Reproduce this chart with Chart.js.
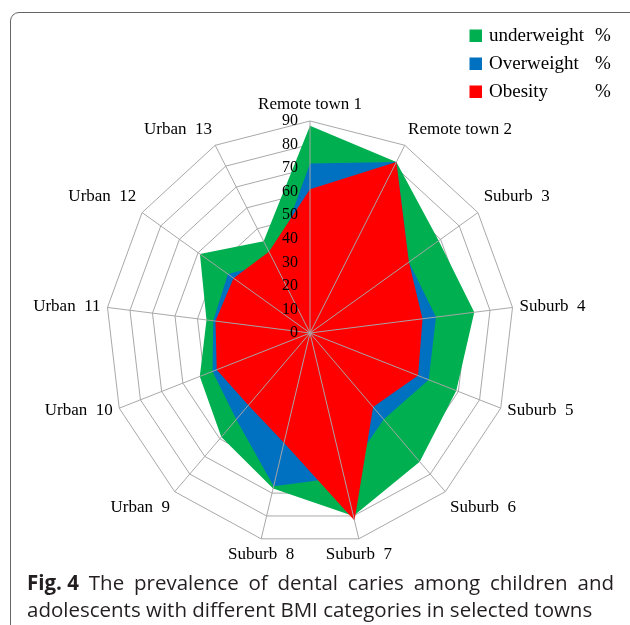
<!DOCTYPE html>
<html>
<head>
<meta charset="utf-8">
<script src="https://cdn.jsdelivr.net/npm/chart.js@4.4.0/dist/chart.umd.min.js"></script>
<style>
  html, body { margin: 0; padding: 0; background: #fff; }
  #wrap { position: relative; width: 630px; height: 625px; overflow: hidden; background: #fff; }
  #frame { position: absolute; left: 10px; top: 12px; width: 700px; height: 700px; border: 1.5px solid #666; border-radius: 9px; box-sizing: border-box; }
  #c { position: absolute; left: 0; top: 0; }
  .cap { position: absolute; left: 27px; font-family: "Open Sans", sans-serif; font-size: 20.5px; line-height: 27px; color: #231f20; white-space: nowrap; }
  #cap1 { top: 569px; width: 587px; text-align: justify; text-align-last: justify; white-space: normal; }
  #cap1 b { display: inline-block; }
  #cap2 { top: 596px; }
</style>
</head>
<body>
<div id="wrap">
  <div id="frame"></div>
  <canvas id="c" width="630" height="625"></canvas>
  <div id="cap1" class="cap"><b>Fig. 4</b> The prevalence of dental caries among children and</div>
  <div id="cap2" class="cap">adolescents with different BMI categories in selected towns</div>
</div>
<script>
const categories = ['Remote town 1', 'Remote town 2', 'Suburb  3', 'Suburb  4', 'Suburb  5', 'Suburb  6', 'Suburb  7', 'Suburb  8', 'Urban  9', 'Urban  10', 'Urban  11', 'Urban  12', 'Urban  13'];
const seriesNames = ['underweight', 'Overweight', 'Obesity'];
const underweight = [88, 82, 69, 73, 69, 73, 80, 68, 59, 52, 46, 59, 44];
const overweight  = [72, 82, 53, 56, 56, 49, 63, 67, 49, 46, 43, 44, 34];
const obesity     = [61, 82, 53, 50, 51, 42, 82, 48, 41, 44, 42, 41, 39];
const tickValues  = [0, 10, 20, 30, 40, 50, 60, 70, 80, 90];

const COLORS = ['#00b050', '#0070c0', '#ff0000'];
const GRID = '#a6a6a6';
const SX = 0.9623;   // horizontal squeeze of the plot (reference is slightly elliptical)
const SERIF = '"Liberation Serif", "Times New Roman", serif';

const decorPlugin = {
  id: 'decor',
  beforeDraw(chart) {
    const s = chart.scales.r, ctx = chart.ctx;
    ctx.save();
    ctx.translate(s.xCenter, 0);
    ctx.scale(SX, 1);
    ctx.translate(-s.xCenter, 0);
  },
  afterDatasetsDraw(chart) {
    const s = chart.scales.r, ctx = chart.ctx;
    const R = s.getDistanceFromCenterForValue(s.max);
    ctx.save();
    ctx.strokeStyle = GRID;
    ctx.lineWidth = 1;
    for (let i = 0; i < chart.data.labels.length; i++) {
      const p = s.getPointPosition(i, R);
      ctx.beginPath();
      ctx.moveTo(s.xCenter, s.yCenter);
      ctx.lineTo(p.x, p.y);
      ctx.stroke();
    }
    ctx.restore();
  },
  afterDraw(chart) {
    const s = chart.scales.r, ctx = chart.ctx;
    ctx.restore();
    const cx = s.xCenter, cy = s.yCenter;
    const R = s.getDistanceFromCenterForValue(s.max);

    // tick labels (left of the vertical axis)
    ctx.save();
    ctx.fillStyle = '#000';
    ctx.font = '16px ' + SERIF;
    ctx.textAlign = 'right';
    ctx.textBaseline = 'middle';
    s.ticks.forEach(t => {
      const y = cy - s.getDistanceFromCenterForValue(t.value);
      ctx.fillText(t.label, cx - 12, y);
    });

    // point labels
    ctx.font = '17px ' + SERIF;
    chart.data.labels.forEach((lab, i) => {
      const p = s.getPointPosition(i, R);
      const sn = (p.x - cx) / R, cs = -(p.y - cy) / R;
      const vx = cx + SX * (p.x - cx), vy = p.y;
      let x, y;
      if (Math.abs(sn) < 0.3) { ctx.textAlign = 'center'; x = vx; }
      else { ctx.textAlign = sn > 0 ? 'left' : 'right'; x = vx + 7 * sn; }
      if (Math.abs(cs) > 0.5) y = vy - Math.sign(cs) * 16;
      else y = vy - cs * 7;
      ctx.fillText(lab, x, y);
    });

    // legend
    ctx.font = '19px ' + SERIF;
    ctx.textAlign = 'left';
    chart.data.datasets.forEach((ds, k) => {
      const y = 36 + k * 28;
      ctx.fillStyle = ds.backgroundColor;
      ctx.fillRect(469.5, y - 6.5, 12.5, 12.5);
      ctx.fillStyle = '#000';
      ctx.fillText(ds.label, 489, y);
      ctx.fillText('%', 595, y);
    });
    ctx.restore();
  }
};

new Chart(document.getElementById('c'), {
  type: 'radar',
  data: {
    labels: categories,
    datasets: [
      { label: seriesNames[0], data: underweight, backgroundColor: COLORS[0], order: 3 },
      { label: seriesNames[1], data: overweight,  backgroundColor: COLORS[1], order: 2 },
      { label: seriesNames[2], data: obesity,     backgroundColor: COLORS[2], order: 1 }
    ].map(d => Object.assign(d, { fill: true, borderWidth: 0, pointRadius: 0, pointHoverRadius: 0 }))
  },
  options: {
    responsive: false,
    animation: false,
    devicePixelRatio: 1,
    layout: { padding: { left: 98, right: 108, top: 121, bottom: 80 } },
    plugins: { legend: { display: false }, tooltip: { enabled: false } },
    scales: {
      r: {
        min: 0,
        max: 90,
        afterBuildTicks(scale) { scale.ticks = tickValues.map(v => ({ value: v, label: String(v) })); },
        ticks: { display: false, stepSize: 10 },
        grid: { color: GRID, lineWidth: 1 },
        angleLines: { display: false },
        pointLabels: { display: false }
      }
    }
  },
  plugins: [decorPlugin]
});
</script>
</body>
</html>
